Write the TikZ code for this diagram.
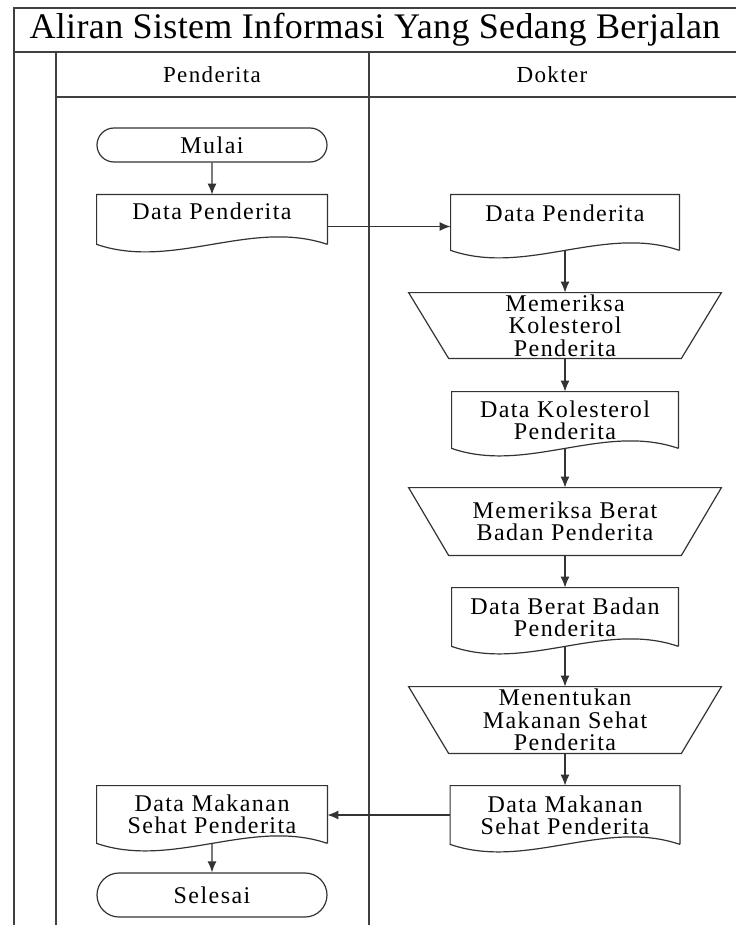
\documentclass[tikz,border=0pt]{standalone}
\usepackage{fontspec}
\setmainfont{Liberation Serif}[LetterSpace=6]
\usetikzlibrary{arrows.meta,shapes.misc,calc}

\newcommand\docoutline[1]{\draw[line] (#1.south east) -- (#1.north east) -- (#1.north west) -- (#1.south west)
  .. controls ($(#1.south west)!0.33!(#1.south east)+(0,26)$) and ($(#1.south west)!0.67!(#1.south east)+(0,-26)$) .. (#1.south east);}
\newcommand\manualoutline[1]{\draw[line] (#1.north west) -- (#1.north east) -- ([xshift=-20pt]#1.south east) -- ([xshift=20pt]#1.south west) -- cycle;}

\begin{document}
\begin{tikzpicture}[x=0.5pt,y=-0.5pt,
    line/.style={draw=black!80, line width=0.6pt},
    flow/.style={line, -{Latex[length=5.5pt,width=4.5pt]}},
    lane/.style={draw=black!75, line width=1pt},
    txt/.style={font=\fontsize{12}{11.2}\selectfont, align=center, text=black},
    terminal/.style={txt, rounded rectangle, line, minimum width=115pt, inner sep=0pt},
    docbox/.style={txt, inner sep=0pt},
    manual/.style={txt, inner sep=0pt, minimum width=156pt, minimum height=32.5pt}]
    \useasboundingbox (0,0) rectangle (736,925);
    \draw[lane] (14,925) -- (14,8) -- (736,8);
    \draw[lane] (14,52) -- (736,52);
    \draw[lane] (56,925) -- (56,52);
    \draw[lane] (369,925) -- (369,52);
    \draw[lane] (56,97) -- (736,97);
    \node[font=\fontsize{18}{20}\selectfont\addfontfeatures{LetterSpace=1}] (title) at (375,30) {Aliran Sistem Informasi Yang Sedang Berjalan};
    \node[txt, font=\fontsize{11.5}{12}\selectfont] (lanePenderita) at (212,75) {Penderita};
    \node[txt, font=\fontsize{11.5}{12}\selectfont] (laneDokter) at (552,75) {Dokter};

    \node[terminal, minimum height=17pt] (mulai) at (212,145) {Mulai};
    \node[docbox, minimum width=115pt, minimum height=24.5pt, text depth=8pt] (dataPenderitaA) at (212,219.5) {Data Penderita};
    \node[docbox, minimum width=114pt, minimum height=27.5pt, text depth=9pt] (dataPenderitaB) at (565,222.5) {Data Penderita};
    \node[manual] (periksaKolesterol) at (565,325.5) {Memeriksa\\Kolesterol\\Penderita};
    \node[docbox, minimum width=113pt, minimum height=28pt] (dataKolesterol) at (565,420) {Data Kolesterol\\Penderita};
    \node[manual, minimum height=33.5pt] (periksaBerat) at (565,521.5) {Memeriksa Berat\\Badan Penderita};
    \node[docbox, minimum width=113pt, minimum height=29pt] (dataBerat) at (565,617) {Data Berat Badan\\Penderita};
    \node[manual, minimum height=33pt] (tentukanMakanan) at (565,720) {Menentukan\\Makanan Sehat\\Penderita};
    \node[docbox, minimum width=114.5pt, minimum height=29pt] (dataMakananB) at (565,815) {Data Makanan\\Sehat Penderita};
    \node[docbox, minimum width=115pt, minimum height=28.5pt] (dataMakananA) at (212,814.5) {Data Makanan\\Sehat Penderita};
    \node[terminal, minimum height=22pt] (selesai) at (212,895) {Selesai};

    \foreach \d in {dataPenderitaA, dataPenderitaB, dataKolesterol, dataBerat, dataMakananB, dataMakananA}
    {\docoutline{\d}}
    \foreach \m in {periksaKolesterol, periksaBerat, tentukanMakanan}
    {\manualoutline{\m}}

    \draw[flow] (mulai) -- (dataPenderitaA);
    \draw[flow] ([yshift=-3.5pt]dataPenderitaA.east) -- ([yshift=-3.5pt]dataPenderitaA.east -| dataPenderitaB.west);
    \draw[flow] (dataPenderitaB) -- (periksaKolesterol);
    \draw[flow] (periksaKolesterol) -- (dataKolesterol);
    \draw[flow] (dataKolesterol) -- (periksaBerat);
    \draw[flow] (periksaBerat) -- (dataBerat);
    \draw[flow] (dataBerat) -- (tentukanMakanan);
    \draw[flow] (tentukanMakanan) -- (dataMakananB);
    \draw[flow] (dataMakananB.west) -- (dataMakananB.west -| dataMakananA.east);
    \draw[flow] (dataMakananA) -- (selesai);
  \end{tikzpicture}
\end{document}
